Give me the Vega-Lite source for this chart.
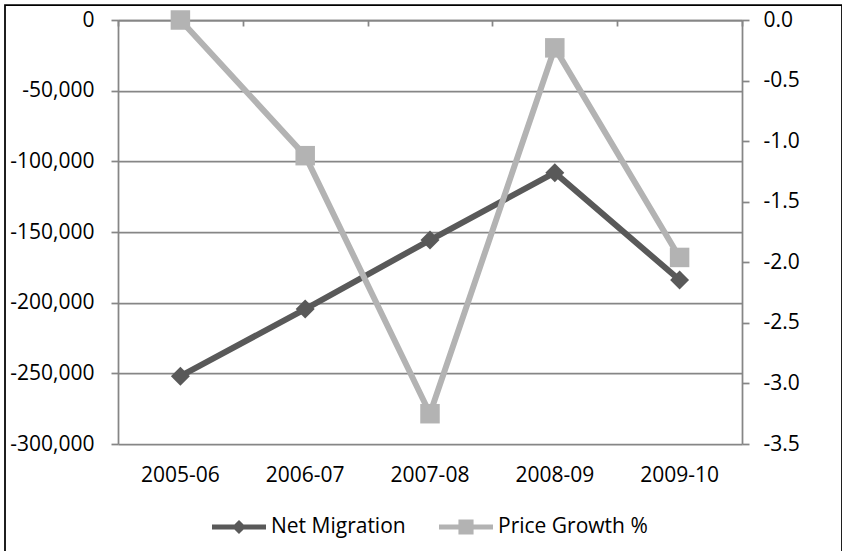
{
  "$schema": "https://vega.github.io/schema/vega-lite/v6.json",
  "width": 837,
  "height": 553,
  "autosize": {"type": "none"},
  "padding": {"left": 5, "top": 5, "right": 0, "bottom": 0},
  "background": "#ffffff",
  "config": {
    "view": {"stroke": "#000000", "strokeWidth": 1.75},
    "font": "Open Sans",
    "axis": {
      "labelFont": "Open Sans",
      "labelFontSize": 21,
      "labelColor": "#000000",
      "domainColor": "#868686",
      "domainWidth": 1.75,
      "tickColor": "#868686",
      "tickWidth": 1.75,
      "gridColor": "#868686",
      "gridWidth": 1.75,
      "gridOpacity": 1,
      "title": null
    },
    "legend": {
      "orient": "none",
      "legendX": 207,
      "legendY": 495,
      "direction": "horizontal",
      "padding": 0,
      "symbolSize": 2916,
      "symbolStrokeWidth": 0,
      "labelFont": "Open Sans",
      "labelFontSize": 21,
      "labelColor": "#000000",
      "labelOffset": 5,
      "columnPadding": 33
    }
  },
  "data": {
    "values": [
      {"period": "2005-06", "migration": -252000, "growth": 0.0},
      {"period": "2006-07", "migration": -204500, "growth": -1.12},
      {"period": "2007-08", "migration": -155700, "growth": -3.25},
      {"period": "2008-09", "migration": -108000, "growth": -0.23},
      {"period": "2009-10", "migration": -184000, "growth": -1.96}
    ]
  },
  "layer": [
    {
      "encoding": {
        "x": {
          "field": "period",
          "type": "nominal",
          "sort": null,
          "scale": {"type": "band", "range": [113, 737], "paddingInner": 0, "paddingOuter": 0},
          "axis": {
            "orient": "top",
            "offset": -15,
            "labels": false,
            "tickBand": "extent",
            "tickSize": -6,
            "grid": false,
            "title": null
          }
        },
        "y": {
          "field": "migration",
          "type": "quantitative",
          "scale": {"domain": [-300000, 0], "range": [439, 15], "nice": false, "zero": false},
          "axis": {
            "orient": "left",
            "offset": -113,
            "values": [-300000, -250000, -200000, -150000, -100000, -50000, 0],
            "labelExpr": "replace(format(datum.value, ','), '\u2212', '-')",
            "tickSize": 7,
            "labelPadding": 17,
            "grid": true,
            "title": null
          }
        }
      },
      "layer": [
        {"mark": {"type": "line", "color": "#595959", "strokeWidth": 6}},
        {"mark": {"type": "point", "shape": "diamond", "filled": true, "size": 360, "color": "#595959", "opacity": 1}}
      ]
    },
    {
      "encoding": {
        "x": {
          "field": "period",
          "type": "nominal",
          "sort": null,
          "scale": {"type": "band", "range": [113, 737], "paddingInner": 0, "paddingOuter": 0},
          "axis": {
            "orient": "bottom",
            "offset": -114,
            "domain": false,
            "ticks": false,
            "tickSize": 0,
            "labelPadding": 20,
            "labelAngle": 0,
            "grid": false,
            "title": null
          }
        },
        "y": {
          "field": "growth",
          "type": "quantitative",
          "scale": {"domain": [-3.5, 0], "range": [439, 15], "nice": false, "zero": false},
          "axis": {
            "orient": "right",
            "offset": -100,
            "values": [-3.5, -3, -2.5, -2, -1.5, -1, -0.5, 0],
            "labelExpr": "replace(format(datum.value, '.1f'), '\u2212', '-')",
            "tickSize": 7,
            "labelPadding": 14,
            "grid": false,
            "title": null
          }
        }
      },
      "layer": [
        {"mark": {"type": "line", "color": "#b3b3b3", "strokeWidth": 6}},
        {"mark": {"type": "point", "shape": "square", "filled": true, "size": 380, "color": "#b3b3b3", "opacity": 1}}
      ]
    },
    {
      "data": {"values": [{"series": "Net Migration"}, {"series": "Price Growth %"}]},
      "transform": [{"filter": "false"}],
      "mark": {"type": "point", "filled": true, "opacity": 1},
      "encoding": {
        "color": {
          "field": "series",
          "type": "nominal",
          "scale": {"domain": ["Net Migration", "Price Growth %"], "range": ["#595959", "#b3b3b3"]},
          "legend": {"title": null}
        },
        "shape": {
          "field": "series",
          "type": "nominal",
          "scale": {
            "domain": ["Net Migration", "Price Growth %"],
            "range": [
              "M-1,-0.093H1V0.093H-1ZM0,-0.26L0.26,0L0,0.26L-0.26,0Z",
              "M-1,-0.093H1V0.093H-1ZM-0.28,-0.28H0.28V0.28H-0.28Z"
            ]
          },
          "legend": {"title": null}
        }
      }
    }
  ],
  "resolve": {"scale": {"y": "independent"}, "axis": {"x": "independent"}}
}
